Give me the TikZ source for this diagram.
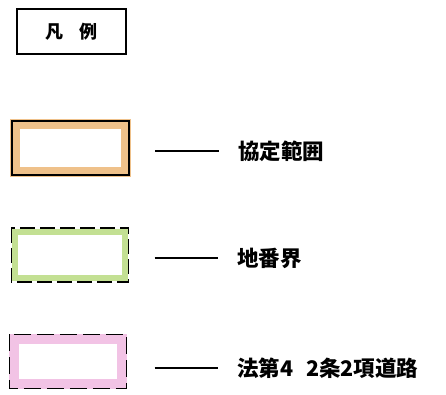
\documentclass[tikz,border=0pt]{standalone}
\usepackage{fontspec}
\setmainfont{Noto Sans CJK JP}
\usetikzlibrary{calc,positioning}

\definecolor{KyoteiColor}{RGB}{236,182,118}
\definecolor{ChibanColor}{RGB}{184,218,128}
\definecolor{DoroColor}{RGB}{240,184,224}

\begin{document}
\begin{tikzpicture}[x=1pt,y=-1pt,every node/.style={align=center,inner sep=0pt},
  legendbox/.style={minimum width=117pt,minimum height=54pt},
  legendtext/.style={anchor=west,font=\fontsize{21.5}{23}\selectfont\bfseries},
  legendline/.style={line width=1.3pt,shorten <=26pt,shorten >=19pt}]
\useasboundingbox (0,0) rectangle (446,394);
\node [draw,line width=1.3pt,minimum width=109pt,minimum height=45pt,font=\fontsize{18}{20}\selectfont\bfseries] (Hanrei) at (71.5,31.5) {凡\hspace{0.9em}例};
% boxes
\node [legendbox] (KyoteiBox) at (70.5,148) {};
\node [legendbox] (ChibanBox) at (70,255) {};
\node [legendbox] (DoroBox) at (68,361.5) {};
\draw [KyoteiColor,line width=10pt,opacity=0.85] ($(KyoteiBox.north west)+(3,3)$) rectangle ($(KyoteiBox.south east)+(-3,-3)$);
\draw [ChibanColor,line width=6pt,opacity=0.85] ($(ChibanBox.north west)+(4,4)$) rectangle ($(ChibanBox.south east)+(-4,-4)$);
\draw [DoroColor,line width=10pt,opacity=0.85] ($(DoroBox.north west)+(5,5)$) rectangle ($(DoroBox.south east)+(-5,-5)$);
\draw [line width=1.5pt] (KyoteiBox.north west) rectangle (KyoteiBox.south east);
\draw [line width=1.5pt,dash pattern=on 15pt off 5pt] (ChibanBox.north west) rectangle (ChibanBox.south east);
\draw [line width=1.5pt,dash pattern=on 17pt off 6pt] (DoroBox.north west) rectangle (DoroBox.south east);
% labels
\node [legendtext] (KyoteiLabel) at (238,151) {協定範囲};
\node [legendtext] (ChibanLabel) at (237,258) {地番界};
\node [legendtext] (DoroLabel) at (237,368) {法第4\hspace{0.6em}2条2項道路};
\draw [legendline] (KyoteiBox.east |- KyoteiLabel.west) -- (KyoteiLabel.west);
\draw [legendline] (ChibanBox.east |- ChibanLabel.west) -- (ChibanLabel.west);
\draw [legendline,shorten <=28pt] (DoroBox.east |- DoroLabel.west) -- (DoroLabel.west);
\end{tikzpicture}
\end{document}
